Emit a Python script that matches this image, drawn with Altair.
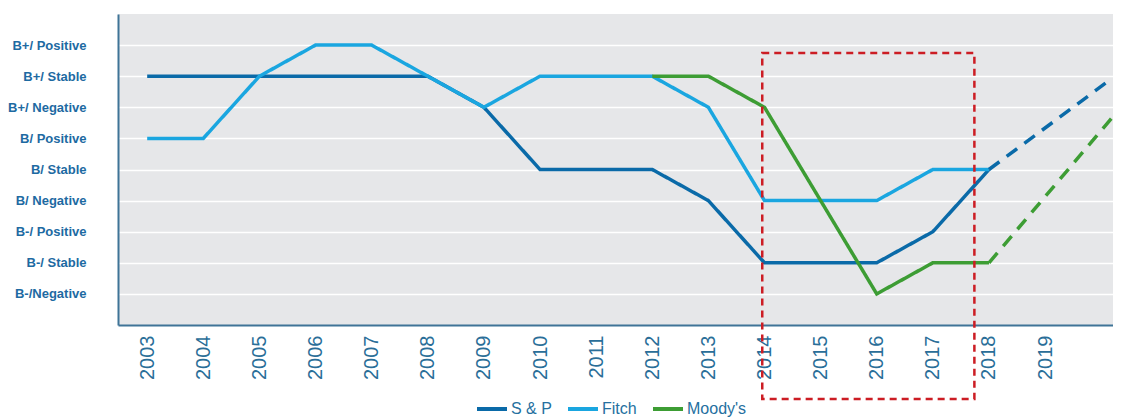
import altair as alt
import pandas as pd

agencies = ["S & P", "Fitch", "Moody's"]
agency_colors = ["#0a6aa8", "#1aa6e0", "#3d9d34"]

years = [2003, 2004, 2005, 2006, 2007, 2008, 2009, 2010, 2011, 2012, 2013, 2014, 2015, 2016, 2017, 2018]
sp_levels = [8, 8, 8, 8, 8, 8, 7, 5, 5, 5, 4, 2, 2, 2, 3, 5]
fitch_levels = [6, 6, 8, 9, 9, 8, 7, 8, 8, 8, 7, 4, 4, 4, 5, 5]
moody_years = [2012, 2013, 2014, 2015, 2016, 2017, 2018]
moody_levels = [8, 8, 7, 4, 1, 2, 2]

sp_fwd_years = [2018, 2020.17]
sp_fwd_levels = [5, 7.9]
moody_fwd_years = [2018, 2020.21]
moody_fwd_levels = [2, 6.7]

rating_labels = ["", "B-/Negative", "B-/ Stable", "B-/ Positive", "B/ Negative", "B/ Stable",
                 "B/ Positive", "B+/ Negative", "B+/ Stable", "B+/ Positive", ""]
x_ticks = list(range(2003, 2020))

# highlight box (years, rating levels)
box_x = [2013.96]
box_x2 = [2017.74]
box_y = [8.75]
box_y2 = [-2.38]

rows = []
for y, v in zip(years, sp_levels):
    rows.append({"agency": "S & P", "year": y, "level": v, "seg": "solid"})
for y, v in zip(years, fitch_levels):
    rows.append({"agency": "Fitch", "year": y, "level": v, "seg": "solid"})
for y, v in zip(moody_years, moody_levels):
    rows.append({"agency": "Moody's", "year": y, "level": v, "seg": "solid"})
for y, v in zip(sp_fwd_years, sp_fwd_levels):
    rows.append({"agency": "S & P", "year": y, "level": v, "seg": "dashed"})
for y, v in zip(moody_fwd_years, moody_fwd_levels):
    rows.append({"agency": "Moody's", "year": y, "level": v, "seg": "dashed"})
df = pd.DataFrame(rows)

box_df = pd.DataFrame({"x": box_x, "x2": box_x2, "y": box_y, "y2": box_y2})

label_expr = "[" + ",".join("'" + s + "'" for s in rating_labels) + "][datum.value]"

xscale = alt.Scale(domain=[2002.48, 2020.21], nice=False, zero=False)
yscale = alt.Scale(domain=[0, 10], nice=False, zero=False)

lines = alt.Chart(df).mark_line(strokeWidth=3.5, strokeCap="butt").encode(
    x=alt.X("year:Q", scale=xscale, title=None,
            axis=alt.Axis(values=x_ticks, tickCount=40, format="d", labelAngle=270,
                          labelFontSize=20, labelFont="Liberation Sans", labelColor="#2a6e98",
                          ticks=False, grid=False, labelPadding=10, domainColor="#3f7497",
                          domainWidth=2, labelBaseline="middle", labelAlign="right",
                          labelOverlap=False)),
    y=alt.Y("level:Q", scale=yscale, title=None,
            axis=alt.Axis(values=list(range(1, 10)), tickCount=20, labelExpr=label_expr,
                          labelFontSize=13, labelFont="Liberation Sans", labelFontWeight="bold",
                          labelColor="#1d6aa2", ticks=False, labelPadding=32,
                          labelOverlap=False,
                          domainColor="#3f7497", domainWidth=2, gridColor="#ffffff",
                          gridWidth=1.5)),
    color=alt.Color("agency:N",
                    scale=alt.Scale(domain=agencies, range=agency_colors),
                    legend=alt.Legend(orient="none", legendX=357, legendY=378,
                                      direction="horizontal", title=None,
                                      symbolType="stroke", symbolStrokeWidth=4,
                                      symbolSize=900, labelFontSize=16,
                                      labelFont="Liberation Sans",
                                      labelColor="#2570a0", labelOffset=2,
                                      columnPadding=8)),
    strokeDash=alt.StrokeDash("seg:N",
                              scale=alt.Scale(domain=["solid", "dashed"], range=[[1, 0], [13, 9]]),
                              legend=None),
    order=alt.Order("year:Q"),
)

box = alt.Chart(box_df).mark_rect(fillOpacity=0, stroke="#cc1d24", strokeWidth=2.5,
                                  strokeDash=[7, 5], clip=False).encode(
    x=alt.X("x:Q", scale=xscale),
    x2="x2:Q",
    y=alt.Y("y:Q", scale=yscale),
    y2="y2:Q",
)

chart = alt.layer(lines, box).properties(
    width=995, height=311,
    autosize=alt.AutoSizeParams(type="none"),
    padding={"left": 110, "top": 6, "right": 0, "bottom": 92},
    background="#ffffff",
).configure_view(fill="#e6e7e9", stroke=None)

chart.save("out.html", embed_options={"renderer": "svg", "actions": False})
